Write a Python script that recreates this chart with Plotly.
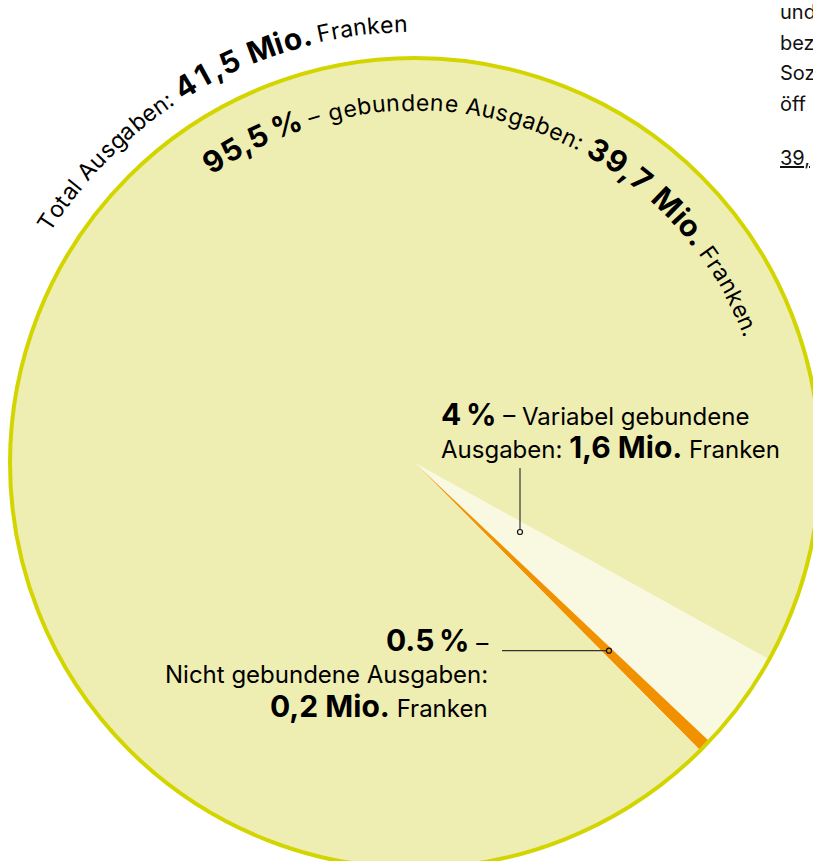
import math
import plotly.graph_objects as go

# ---------------- data ----------------
slice_labels = ["Variabel gebundene Ausgaben", "Nicht gebundene Ausgaben", "Gebundene Ausgaben"]
slice_shares = [4.0, 0.5, 95.5]        # percent of total
slice_amounts = [1.6, 0.2, 39.7]       # Mio. Franken
total_amount = 41.5                    # Mio. Franken
slice_colors = ["#f9f8e1", "#f29100", "#efeeb2"]
side_lines = ["und", "bez", "Soz", "öff"]
side_link = "39,"

# ---------------- geometry ----------------
W, H = 820, 868
CX, CY, R = 415, 463, 405
START = 119          # first slice starts here (deg clockwise from 12 o'clock)
FONT = "Inter"
REG, BLD = 24, 30
PAD = 3              # annotation box padding in px

def de(v):
    return f"{v:.1f}".replace(".", ",")

def px(x):
    return x / W

def py(y):
    return 1 - y / H

CW = {" ": 0.28, "\u2009": 0.17, "A": 0.69, "F": 0.58, "M": 0.86, "T": 0.63, "N": 0.73, "V": 0.69,
      "a": 0.545, "b": 0.61, "d": 0.61, "e": 0.572, "g": 0.61, "i": 0.238, "k": 0.53, "l": 0.238,
      "n": 0.59, "o": 0.59, "r": 0.374, "s": 0.52, "t": 0.356, "u": 0.59,
      ",": 0.26, ".": 0.26, ":": 0.26, "%": 0.83, "\u2013": 0.6}
for d in "0123456789":
    CW[d] = 0.62

annotations = []

def arc_text(segments, r_base, a0, a1):
    items = []
    for txt, size, bold in segments:
        for ch in txt:
            w = CW.get(ch, 0.58) * size * (1.06 if bold else 1.0)
            items.append((ch, size, bold, w))
    tot = sum(i[3] for i in items)
    k = r_base * math.radians(a1 - a0) / tot
    s = 0.0
    for ch, size, bold, w in items:
        mid = s + w * k / 2
        s += w * k
        if ch.strip() == "":
            continue
        ang = a0 + math.degrees(mid / r_base)
        rc = r_base + 0.364 * size
        x = CX + rc * math.sin(math.radians(ang))
        y = CY - rc * math.cos(math.radians(ang))
        annotations.append(dict(
            text=f"<b>{ch}</b>" if bold else ch, x=px(x), y=py(y), xref="paper", yref="paper",
            showarrow=False, xanchor="center", yanchor="middle", textangle=ang,
            font=dict(family=FONT, size=size, color="#000")))

def big(t):
    return f"<span style='font-size:{BLD}px'><b>{t}</b></span>"

def flat(text, x, baseline, maxsize, xanchor="left", size=REG, color="#000"):
    xx = x - PAD if xanchor == "left" else x + PAD
    annotations.append(dict(
        text=text, x=px(xx), y=py(baseline - 0.364 * maxsize), xref="paper", yref="paper",
        showarrow=False, xanchor=xanchor, yanchor="middle", align=xanchor,
        font=dict(family=FONT, size=size, color=color)))

# curved headline outside the pie
arc_text([("Total Ausgaben: ", 23, False), (f"{de(total_amount)} Mio.", 30, True), (" Franken", 23, False)],
         431, -57.8, -0.9)
# curved label of the big slice
arc_text([(f"{de(slice_shares[2])}\u2009%", 30, True), (" \u2013 gebundene Ausgaben: ", 23, False),
          (f"{de(slice_amounts[2])} Mio.", 30, True), (" Franken.", 23, False)],
         352, -35.5, 69.3)

# 4 % label
flat(f"{big(f'{slice_shares[0]:g}&#8201;%')} \u2013 Variabel gebundene", 441.7, 425, BLD)
flat(f"Ausgaben: {big(de(slice_amounts[0]) + ' Mio.')} Franken", 441.7, 458, BLD)
# 0.5 % label
flat(f"{big(f'{slice_shares[1]:g}&#8201;%')} \u2013", 487, 650.7, BLD, xanchor="right")
flat("Nicht gebundene Ausgaben:", 487, 683, REG, xanchor="right")
flat(f"{big(de(slice_amounts[1]) + ' Mio.')} Franken", 487, 717, BLD, xanchor="right")

# clipped side text (column cut off by the frame)
for i, t in enumerate(side_lines):
    flat(t, 781, 19.5 + 30.5 * i, 20, size=20, color="#111")
flat(f"<u>{side_link}</u>", 781, 165, 20, size=20, color="#111")

shapes = [
    dict(type="circle", xref="paper", yref="paper", x0=px(CX - R), x1=px(CX + R),
         y0=py(CY + R), y1=py(CY - R), line=dict(color="#d3d500", width=4), layer="above"),
    dict(type="line", xref="paper", yref="paper", x0=px(520), x1=px(520), y0=py(468), y1=py(529.5),
         line=dict(color="#333", width=1.2)),
    dict(type="circle", xref="paper", yref="paper", x0=px(517.5), x1=px(522.5), y0=py(529.5), y1=py(534.5),
         line=dict(color="#111", width=1.2)),
    dict(type="line", xref="paper", yref="paper", x0=px(502), x1=px(606.5), y0=py(650.7), y1=py(650.7),
         line=dict(color="#333", width=1.2)),
    dict(type="circle", xref="paper", yref="paper", x0=px(606.5), x1=px(611.5), y0=py(648.2), y1=py(653.2),
         line=dict(color="#111", width=1.2)),
]

fig = go.Figure(go.Pie(
    labels=slice_labels, values=slice_shares, sort=False, direction="clockwise", rotation=START,
    marker=dict(colors=slice_colors, line=dict(width=0)), textinfo="none", hoverinfo="label+percent",
    domain=dict(x=[px(CX - R), px(CX + R)], y=[py(CY + R), py(CY - R)]),
))
fig.update_layout(width=W, height=H, margin=dict(l=0, r=0, t=0, b=0), showlegend=False,
                  paper_bgcolor="white", plot_bgcolor="white",
                  annotations=annotations, shapes=shapes)
fig.write_html("out.html", config={"displayModeBar": False},
               post_script="document.body.style.margin='0';document.body.style.overflow='hidden';")
